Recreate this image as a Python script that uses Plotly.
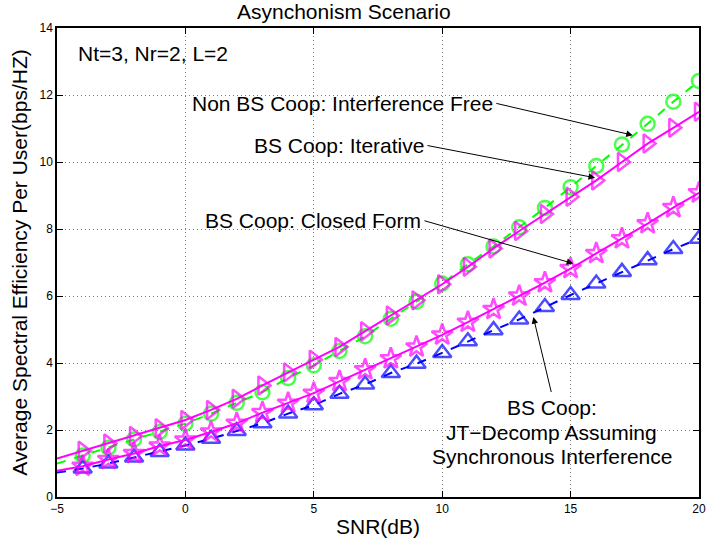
import plotly.graph_objects as go

snr = [-5, -4, -3, -2, -1, 0, 1, 2, 3, 4, 5, 6, 7, 8, 9, 10, 11, 12, 13, 14, 15, 16, 17, 18, 19, 20]

non_coop_free = [1.00, 1.24, 1.47, 1.72, 1.94, 2.19, 2.49, 2.81, 3.13, 3.55, 3.93, 4.36, 4.80, 5.32, 5.83,
                 6.37, 6.95, 7.48, 8.05, 8.63, 9.25, 9.88, 10.52, 11.14, 11.80, 12.42]
coop_iterative = [1.15, 1.38, 1.60, 1.82, 2.05, 2.30, 2.60, 2.93, 3.33, 3.72, 4.10, 4.48, 4.95, 5.42, 5.87,
                  6.35, 6.87, 7.42, 7.94, 8.45, 8.96, 9.45, 10.00, 10.55, 11.02, 11.50]
coop_closed = [0.78, 0.92, 1.12, 1.30, 1.52, 1.70, 1.94, 2.20, 2.52, 2.80, 3.10, 3.45, 3.80, 4.13, 4.48,
               4.84, 5.22, 5.60, 6.00, 6.40, 6.82, 7.27, 7.71, 8.16, 8.64, 9.08]
coop_jt_sync = [0.73, 0.85, 1.00, 1.18, 1.34, 1.54, 1.74, 1.97, 2.20, 2.49, 2.74, 3.08, 3.36, 3.70, 3.98,
                4.30, 4.65, 4.98, 5.30, 5.67, 6.03, 6.37, 6.72, 7.07, 7.40, 7.71]

x_ticks = [-5, 0, 5, 10, 15, 20]
y_ticks = [0, 2, 4, 6, 8, 10, 12, 14]

title_text = "Asynchonism Scenario"
x_title = "SNR(dB)"
y_title = "Average Spectral Efficiency Per User(bps/HZ)"
param_text = "Nt=3, Nr=2, L=2"
label_free = "Non BS Coop: Interference Free"
label_iter = "BS Coop: Iterative"
label_closed = "BS Coop: Closed Form"
label_jt = ["BS Coop:", "JT\u2212Decomp Assuming", "Synchronous Interference"]

FONT = "Liberation Sans, Arial, Helvetica, sans-serif"
TS = 21

# no marker at the first (x=-5) point
msz = lambda s: [0] + [s] * (len(snr) - 1)

fig = go.Figure()
fig.add_trace(go.Scatter(x=snr, y=non_coop_free, mode="lines+markers",
                         line=dict(color="#00FF00", width=2, dash="dash"),
                         marker=dict(symbol="circle-open", size=msz(14), color="#00FF00",
                                     line=dict(width=2.5, color="#00FF00"))))
fig.add_trace(go.Scatter(x=snr, y=coop_jt_sync, mode="lines+markers",
                         line=dict(color="#0000FF", width=2, dash="dash"),
                         marker=dict(symbol="triangle-up-open", size=msz(16), color="#0000FF",
                                     line=dict(width=2.5, color="#0000FF"))))
fig.add_trace(go.Scatter(x=snr, y=coop_iterative, mode="lines+markers",
                         line=dict(color="#FF00FF", width=2),
                         marker=dict(symbol="triangle-right-open", size=msz(16), color="#FF00FF",
                                     line=dict(width=2.5, color="#FF00FF"))))
fig.add_trace(go.Scatter(x=snr, y=coop_closed, mode="lines+markers",
                         line=dict(color="#FF00FF", width=2),
                         marker=dict(symbol="star-open", size=msz(16), color="#FF00FF",
                                     line=dict(width=2.5, color="#FF00FF"))))

annotations = []
def txt(x, y, t, xa="right"):
    annotations.append(dict(x=x, y=y, xref="x", yref="y", text=t, showarrow=False,
                            xanchor=xa, yanchor="middle",
                            font=dict(family=FONT, size=TS, color="black")))

def arrow(x0, y0, x1, y1):
    annotations.append(dict(x=x1, y=y1, ax=x0, ay=y0, xref="x", yref="y", axref="x", ayref="y",
                            text="", showarrow=True, arrowhead=2, arrowsize=1.3, arrowwidth=1,
                            arrowcolor="black", standoff=0, startstandoff=0))

txt(-4.25, 13.24, param_text, xa="left")
txt(12.05, 11.76, label_free)
arrow(12.05, 11.76, 17.42, 10.80)
txt(9.37, 10.50, label_iter)
arrow(9.37, 10.50, 15.95, 9.53)
txt(9.25, 8.26, label_closed)
arrow(9.25, 8.26, 15.10, 6.97)
for yy, t in zip([2.67, 1.94, 1.22], label_jt):
    txt(14.26, yy, t, xa="center")
arrow(14.26, 3.09, 13.55, 5.37)

PW, PH = 706 - 57 - 7, 543 - 28 - 46
annotations.append(dict(x=(344 - 57) / PW, y=1 + (28 - 11) / PH, xref="paper", yref="paper", text=title_text,
                        showarrow=False, xanchor="center", yanchor="middle",
                        font=dict(family=FONT, size=TS, color="black")))

fig.update_layout(
    template="none",
    width=706, height=543,
    margin=dict(l=57, r=7, t=28, b=46, autoexpand=False),
    paper_bgcolor="white", plot_bgcolor="white",
    showlegend=False,
    annotations=annotations,
    font=dict(family=FONT, size=12, color="black"),
)
axis_common = dict(showline=True, linecolor="black", linewidth=1.5, mirror="allticks",
                   ticks="inside", ticklen=6, tickcolor="black", tickwidth=1,
                   showgrid=True, gridcolor="#7a7a7a", griddash="1px,3px", gridwidth=1,
                   zeroline=False, automargin=False,
                   tickfont=dict(family=FONT, size=12, color="black"))
fig.update_xaxes(range=[-5, 20], tickvals=x_ticks, ticktext=[str(v).replace("-", "\u2212") for v in x_ticks],
                 title=dict(text=x_title, font=dict(family=FONT, size=TS), standoff=4), **axis_common)
fig.update_yaxes(range=[0, 14], tickvals=y_ticks,
                 title=dict(text=y_title, font=dict(family=FONT, size=TS), standoff=6), **axis_common)

fig.write_html("out.html")
